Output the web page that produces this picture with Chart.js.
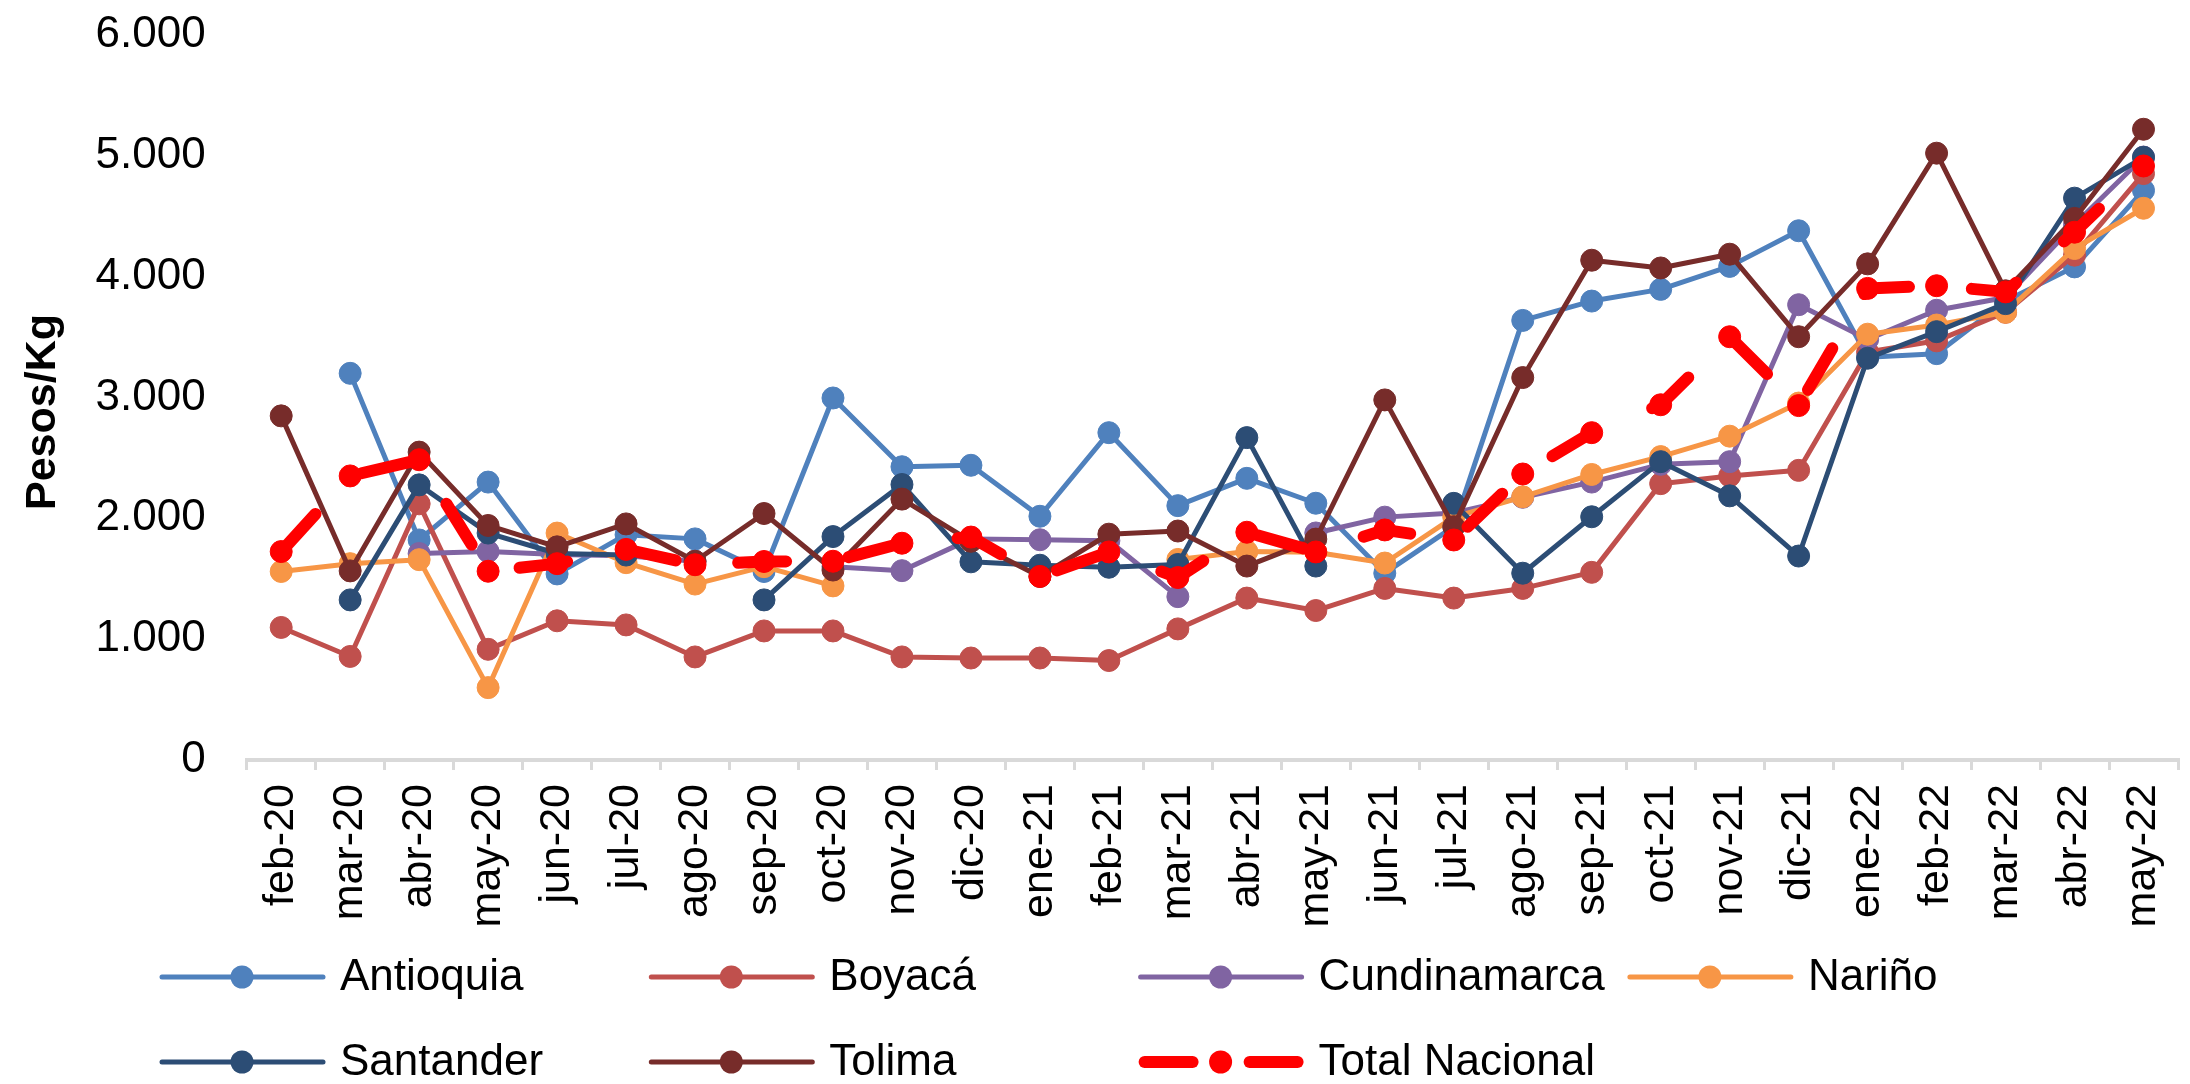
<!DOCTYPE html>
<html>
<head>
<meta charset="utf-8">
<script src="https://cdn.jsdelivr.net/npm/chart.js@4/dist/chart.umd.min.js"></script>
<style>
html,body{margin:0;padding:0;background:#fff;}
#wrap{width:2190px;height:1084px;position:relative;}
canvas{display:block;}
</style>
</head>
<body>
<div id="wrap"><canvas id="c" width="2190" height="1084"></canvas></div>
<script>
const categories = ["feb-20","mar-20","abr-20","may-20","jun-20","jul-20","ago-20","sep-20","oct-20","nov-20","dic-20","ene-21","feb-21","mar-21","abr-21","may-21","jun-21","jul-21","ago-21","sep-21","oct-21","nov-21","dic-21","ene-22","feb-22","mar-22","abr-22","may-22"];

const antioquia    = [null,3200,1821,2300,1540,1865,1830,1560,2996,2427,2439,2017,2709,2105,2331,2125,1546,1931,3638,3798,3895,4085,4380,3334,3363,3798,4081,4714];
const boyaca       = [1097,857,2120,916,1152,1118,853,1068,1068,853,844,844,823,1085,1340,1237,1420,1340,1420,1553,2287,2351,2397,3376,3469,3705,4178,4853];
const cundinamarca = [null,null,1709,1725,1700,1690,1645,null,1600,1567,1830,1823,1815,1352,null,1879,2010,2045,2174,2300,2447,2469,3768,3481,3722,3828,4431,4990];
const narino       = [1560,1625,1658,599,1878,1633,1456,1600,1441,null,null,null,null,1660,1725,1720,1630,2010,2178,2363,2511,2680,2954,3524,3600,3705,4233,4566];
const santander    = [null,1325,2277,1878,1709,1696,null,1325,1849,2280,1640,1612,1595,1618,2668,1605,null,2124,1546,2013,2469,2186,1688,3325,3545,3777,4650,4988];
const tolima       = [2848,1565,2548,1941,1764,1954,1645,2040,1572,2159,1810,1519,1869,1895,1605,1828,2980,1931,3165,4136,4072,4186,3503,4106,5022,3883,4482,5220];
const totalNacional= [1725,2351,2485,1562,1625,1743,1616,1643,1645,1794,1845,1519,1722,1510,1885,1722,1904,1821,2367,2709,2940,3503,2933,3903,3925,3874,4368,4916];

const seriesNames = ["Antioquia","Boyacá","Cundinamarca","Nariño","Santander","Tolima","Total Nacional"];
const seriesColors = ["#4F81BD","#C0504D","#8064A2","#F79646","#2C4D75","#772C2A","#FF0000"];
const yTitle = "Pesos/Kg";
const yMin = 0, yMax = 6000, yStep = 1000;

const FONT = '"Liberation Sans", Arial, sans-serif';

function fmt(v){ return String(v).replace(/\B(?=(\d{3})+(?!\d))/g, '.'); }

const seriesValues = [antioquia, boyaca, cundinamarca, narino, santander, tolima, totalNacional];

const datasets = seriesValues.map((vals, i) => {
  const isTotal = i === 6;
  return {
    label: seriesNames[i],
    data: vals,
    borderColor: seriesColors[i],
    backgroundColor: seriesColors[i],
    pointBackgroundColor: seriesColors[i],
    pointBorderColor: seriesColors[i],
    pointRadius: 11,
    pointBorderWidth: 1,
    pointHoverRadius: 11,
    borderWidth: isTotal ? 12 : 5,
    borderDash: isTotal ? [48, 63] : [],
    borderDashOffset: isTotal ? 108 : 0,
    borderCapStyle: 'round',
    borderJoinStyle: 'round',
    tension: 0,
    spanGaps: false,
    fill: false,
    order: 6 - i
  };
});

const customDraw = {
  id: 'customDraw',
  afterDraw(chart) {
    const ctx = chart.ctx;
    // Y axis title
    ctx.save();
    ctx.translate(43, 412);
    ctx.rotate(-Math.PI / 2);
    ctx.font = 'bold 43px ' + FONT;
    ctx.textAlign = 'center';
    ctx.textBaseline = 'middle';
    ctx.fillStyle = '#000';
    ctx.fillText(yTitle, 0, 0);
    ctx.restore();

    // Legend
    const rowsY = [977, 1062];
    seriesNames.forEach((name, i) => {
      const col = i % 4, row = Math.floor(i / 4);
      const x0 = 160 + 489.3 * col;
      const y = rowsY[row];
      const color = seriesColors[i];
      ctx.save();
      ctx.strokeStyle = color;
      ctx.fillStyle = color;
      ctx.lineCap = 'round';
      if (i === 6) {
        ctx.lineWidth = 12;
        ctx.beginPath(); ctx.moveTo(x0 + 6, y); ctx.lineTo(x0 + 54, y); ctx.stroke();
        ctx.beginPath(); ctx.moveTo(x0 + 111, y); ctx.lineTo(x0 + 159, y); ctx.stroke();
      } else {
        ctx.lineWidth = 5;
        ctx.beginPath(); ctx.moveTo(x0 + 2, y); ctx.lineTo(x0 + 163, y); ctx.stroke();
      }
      ctx.beginPath(); ctx.arc(x0 + 82, y, 11.5, 0, Math.PI * 2); ctx.fill();
      ctx.fillStyle = '#000';
      ctx.font = '44px ' + FONT;
      ctx.textAlign = 'left';
      ctx.textBaseline = 'middle';
      ctx.fillText(name, x0 + 180, y + 1);
      ctx.restore();
    });
  }
};

new Chart(document.getElementById('c'), {
  type: 'line',
  data: { labels: categories, datasets },
  plugins: [customDraw],
  options: {
    responsive: false,
    animation: false,
    devicePixelRatio: 1,
    layout: { padding: { top: 35, left: 0, right: 3, bottom: 144 } },
    plugins: { legend: { display: false }, tooltip: { enabled: false } },
    scales: {
      x: {
        type: 'category',
        offset: true,
        grid: { display: true, offset: true, drawOnChartArea: false, drawTicks: true, tickLength: 10, color: '#D9D9D9', lineWidth: 3 },
        border: { display: true, color: '#D9D9D9', width: 4 },
        ticks: { autoSkip: false, maxRotation: 90, minRotation: 90, padding: 14, color: '#000', font: { family: FONT, size: 43 } },
        afterFit: s => { s.height = 180; s.paddingLeft = 0; s.paddingRight = 0; }
      },
      y: {
        min: yMin, max: yMax,
        ticks: { stepSize: yStep, padding: 41, color: '#000', font: { family: FONT, size: 44 }, callback: v => fmt(v) },
        grid: { display: false, drawTicks: false },
        border: { display: false },
        afterFit: s => { s.width = 246.7; s.paddingTop = 0; s.paddingBottom = 0; }
      }
    }
  }
});
</script>
</body>
</html>
